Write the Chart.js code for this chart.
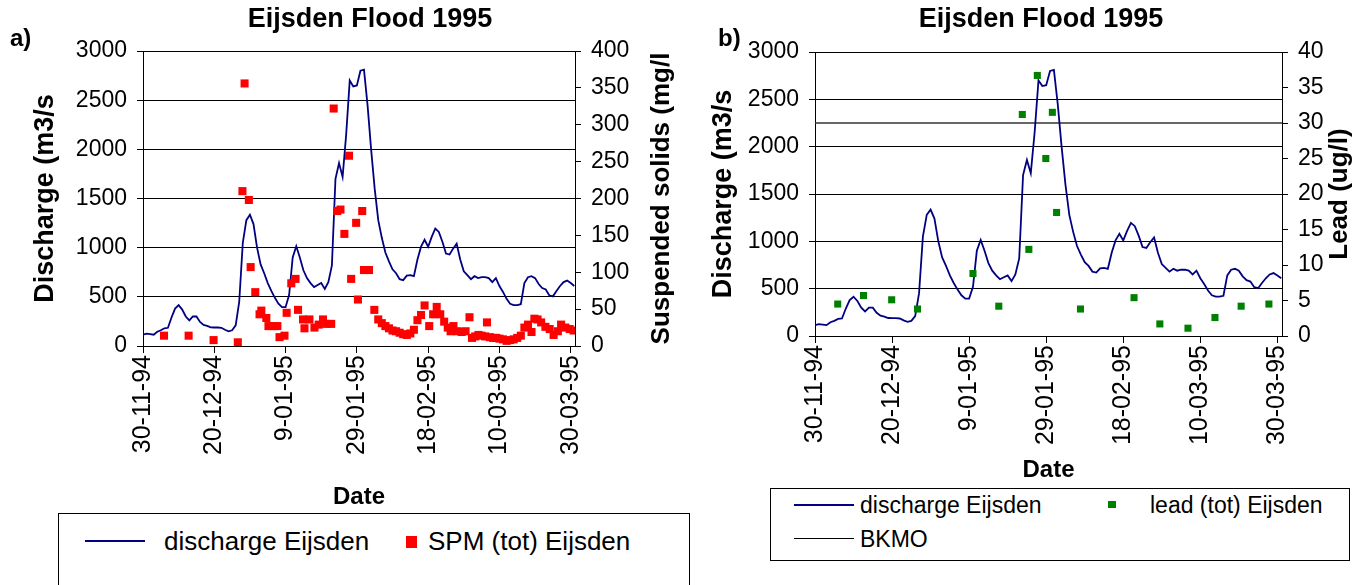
<!DOCTYPE html>
<html>
<head>
<meta charset="utf-8">
<script src="https://cdn.jsdelivr.net/npm/chart.js@4.4.1/dist/chart.umd.min.js"></script>
<style>
  html, body { margin: 0; padding: 0; background: #fff; width: 1366px; height: 585px; overflow: hidden; }
  .wrap { position: absolute; top: 0; }
  #wrapA { left: 0; width: 740px; height: 515px; }
  #wrapB { left: 700px; width: 682px; height: 485px; }
  .legend { position: absolute; box-sizing: border-box; border: 1.5px solid #000; background: #fff;
            font-family: 'Liberation Sans', Arial, sans-serif; color: #000; }
  .legend span { position: absolute; display: block; }
  .legend .txt { white-space: nowrap; line-height: 30px; height: 30px; }
</style>
</head>
<body>
<div class="wrap" id="wrapA"><canvas id="chartA" width="740" height="515"></canvas></div>
<div class="wrap" id="wrapB"><canvas id="chartB" width="682" height="485"></canvas></div>

<div class="legend" style="left:58px; top:513px; width:632px; height:90px; font-size:26px;">
  <span style="left:26px; top:26px; width:60px; height:0; border-top:2px solid #000080;"></span>
  <span class="txt" style="left:105px; top:12px;">discharge Eijsden</span>
  <span style="left:347px; top:22px; width:11px; height:12px; background:#ff0000;"></span>
  <span class="txt" style="left:369px; top:12px;">SPM (tot) Eijsden</span>
</div>

<div class="legend" style="left:770px; top:488px; width:580px; height:73px; font-size:23px;">
  <span style="left:23px; top:15px; width:60px; height:0; border-top:2px solid #000080;"></span>
  <span class="txt" style="left:89px; top:1px;">discharge Eijsden</span>
  <span style="left:337px; top:12px; width:8px; height:7px; background:#008000;"></span>
  <span class="txt" style="left:379px; top:1px;">lead (tot) Eijsden</span>
  <span style="left:23px; top:49px; width:60px; height:0; border-top:1px solid #000;"></span>
  <span class="txt" style="left:89px; top:35px;">BKMO</span>
</div>

<script>
// x axis: days since 30-11-94
const dateLabels = ['30-11-94', '20-12-94', '9-01-95', '29-01-95', '18-02-95', '10-03-95', '30-03-95'];
const dateTickDays = [0, 20, 40, 60, 80, 100, 120];
const lastDay = 121.2;

// daily discharge at Eijsden (m3/s), day 0 .. 121
const discharge = [
  115, 125, 120, 115, 145, 160, 180, 185, 290, 380,
  415, 370, 300, 260, 300, 300, 245, 215, 205, 190,
  188, 188, 185, 165, 150, 160, 210, 450, 1050, 1280,
  1335, 1240, 1000, 830, 740, 640, 560, 490, 430, 395,
  395, 520, 900, 1015, 900, 770, 690, 640, 600, 620,
  640, 580, 650, 820, 1700, 1860, 1720, 2150, 2700, 2640,
  2650, 2800, 2810, 2450, 2000, 1600, 1280, 1100, 950, 860,
  780, 740, 680, 670, 715, 720, 710, 880, 1010, 1080,
  1010, 1110, 1195, 1160, 1060, 940, 930, 990, 1040, 880,
  760, 720, 680, 710, 690, 700, 700, 690, 650, 690,
  610, 550, 480, 430, 415, 415, 425, 640, 700, 710,
  690, 630, 590, 575, 515, 505, 560, 610, 650, 665,
  640, 610
];

// suspended solids samples (mg/l)
const spmDays = [
  5.9, 12.8, 19.8, 26.6, 27.9, 28.5, 29.7, 30.2, 31.5, 32.7,
  33.2, 34.6, 35.2, 36.4, 37.7, 38.3, 39.7, 40.3, 41.6, 42.8,
  43.5, 44.9, 45.3, 46.7, 48.1, 49.3, 50.5, 51.4, 52.8, 53.5,
  54.5, 55.4, 56.5, 57.8, 58.4, 59.8, 60.3, 61.5, 62.0, 63.4,
  64.9, 66, 67, 68, 69, 70, 71, 72, 73, 74,
  75, 76, 77, 78, 79, 80.3, 81.4, 82.4, 83.4, 84.5,
  85.5, 86.3, 87.1, 88.2, 89.4, 90.5, 91.6, 92.3, 93.2, 94.1,
  95, 96, 96.5, 97.3, 98.2, 99.1, 100, 101, 102, 103,
  104, 105, 106, 107, 108, 109, 109.8, 110.7, 111.7, 112.9,
  114.1, 115.2, 116.4, 117.3, 118.5, 119.7, 120.8
];
const spmValues = [
  14, 14, 8, 5, 210, 356, 198, 107, 73, 43,
  48, 38, 27, 27, 27, 12, 14, 45, 85, 91,
  49, 36, 24, 36, 25, 29, 36, 30, 30, 322,
  183, 185, 152, 258, 91, 167, 63, 183, 103, 103,
  49, 36, 31, 27, 24, 21, 20, 18, 16, 15,
  17, 22, 35, 42, 55, 27, 43, 53, 43, 33,
  25, 20, 27, 20, 19, 20, 39, 11, 13, 15,
  14, 13, 32, 12, 11, 11, 10, 9, 7, 8,
  9, 11, 14, 25, 29, 19, 37, 36, 32, 26,
  23, 15, 20, 29, 25, 23, 21
];

// lead samples (ug/l)
const leadDays = [5.9, 12.6, 19.9, 26.6, 41.0, 47.7, 53.8, 55.5, 57.7, 59.9, 61.6, 62.7, 68.9, 82.8, 89.5, 96.8, 103.8, 110.6, 117.8];
const leadValues = [4.5, 5.7, 5.1, 3.8, 8.8, 4.2, 31.2, 12.2, 36.7, 25.0, 31.5, 17.4, 3.8, 5.4, 1.7, 1.1, 2.6, 4.2, 4.5];

// BKMO standard for lead (ug/l)
const bkmoLevel = 30;

const FONT = "'Liberation Sans', Arial, sans-serif";
Chart.defaults.font.family = FONT;
Chart.defaults.color = '#000';

const dischargePoints = discharge.map((v, i) => ({ x: i, y: v }));
const spmPoints = spmDays.map((d, i) => ({ x: d, y: spmValues[i] }));
const leadPoints = leadDays.map((d, i) => ({ x: d, y: leadValues[i] }));
const bkmoPoints = [{ x: 0, y: bkmoLevel }, { x: lastDay, y: bkmoLevel }];

// panel letter and right axis title (reads bottom to top like the left one)
function panelText(letter, letterX, rightTitle, rightX) {
  return {
    id: 'panelText',
    afterDraw(chart) {
      const ctx = chart.ctx;
      const area = chart.chartArea;
      ctx.save();
      ctx.fillStyle = '#000';
      ctx.font = 'bold 24px ' + FONT;
      ctx.textBaseline = 'middle';
      ctx.textAlign = 'left';
      ctx.fillText(letter, letterX, 39);
      ctx.translate(rightX, (area.top + area.bottom) / 2);
      ctx.rotate(-Math.PI / 2);
      ctx.textAlign = 'center';
      ctx.font = 'bold 26px ' + FONT;
      ctx.fillText(rightTitle, 0, 0);
      ctx.restore();
    }
  };
}

const plainNumber = (value) => String(value);

function buildOptions(box, rightMax, rightStep) {
  return {
    responsive: false,
    animation: false,
    events: [],
    layout: { padding: 0 },
    plugins: {
      legend: { display: false },
      tooltip: { enabled: false },
      title: {
        display: true,
        text: 'Eijsden Flood 1995',
        color: '#000',
        font: { size: 27, weight: 'bold' },
        padding: { top: 3, bottom: box.top - 3 - 32.4 }
      }
    },
    scales: {
      x: {
        type: 'linear',
        min: 0,
        max: lastDay,
        afterBuildTicks: (scale) => { scale.ticks = dateTickDays.map(v => ({ value: v })); },
        afterFit: (scale) => { scale.height = box.height - box.bottom; },
        ticks: {
          autoSkip: false,
          maxRotation: 90,
          minRotation: 90,
          padding: 2,
          font: { size: 25 },
          callback: (value, index) => dateLabels[index]
        },
        grid: { drawOnChartArea: false, tickLength: 7, color: '#000' },
        border: { color: '#000', width: 1 },
        title: {
          display: true,
          text: 'Date',
          font: { size: 24, weight: 'bold' },
          padding: { top: 0, bottom: box.dateBottom }
        }
      },
      y: {
        position: 'left',
        min: 0,
        max: 3000,
        afterFit: (scale) => { scale.width = box.left; },
        ticks: { stepSize: 500, padding: 10, font: { size: 23 }, callback: plainNumber },
        grid: { color: '#000', lineWidth: 1, tickLength: 6 },
        border: { color: '#000', width: 1 },
        title: {
          display: true,
          text: 'Discharge (m3/s',
          font: { size: 27, weight: 'bold' },
          padding: { top: box.leftTitle - 16.2, bottom: 0 }
        }
      },
      y2: {
        position: 'right',
        min: 0,
        max: rightMax,
        afterFit: (scale) => { scale.width = box.width - box.right; },
        ticks: { stepSize: rightStep, padding: 10, font: { size: 23 }, callback: plainNumber },
        grid: { drawOnChartArea: false, tickLength: 6, color: '#000' },
        border: { color: '#000', width: 1 }
      }
    }
  };
}

// chart a: discharge and suspended solids
new Chart(document.getElementById('chartA'), {
  type: 'line',
  data: {
    datasets: [
      {
        label: 'SPM (tot) Eijsden',
        data: spmPoints,
        yAxisID: 'y2',
        showLine: false,
        pointStyle: 'rect',
        pointRadius: 5.7,
        pointBackgroundColor: '#ff0000',
        pointBorderWidth: 0,
        order: 0
      },
      {
        label: 'discharge Eijsden',
        data: dischargePoints,
        yAxisID: 'y',
        borderColor: '#000080',
        borderWidth: 1.8,
        pointRadius: 0,
        tension: 0,
        order: 1
      }
    ]
  },
  options: buildOptions({ width: 740, height: 515, left: 143, right: 575, top: 51, bottom: 346, leftTitle: 46, dateBottom: 3.6 }, 400, 50),
  plugins: [panelText('a)', 10, 'Suspended solids (mg/l', 662)]
});

// chart b: discharge and lead (left edge of canvas is x=700 on the page)
new Chart(document.getElementById('chartB'), {
  type: 'line',
  data: {
    datasets: [
      {
        label: 'lead (tot) Eijsden',
        data: leadPoints,
        yAxisID: 'y2',
        showLine: false,
        pointStyle: 'rect',
        pointRadius: 5,
        pointBackgroundColor: '#008000',
        pointBorderWidth: 0,
        order: 0
      },
      {
        label: 'discharge Eijsden',
        data: dischargePoints,
        yAxisID: 'y',
        borderColor: '#000080',
        borderWidth: 1.8,
        pointRadius: 0,
        tension: 0,
        order: 1
      },
      {
        label: 'BKMO',
        data: bkmoPoints,
        yAxisID: 'y2',
        borderColor: '#333333',
        borderWidth: 1.5,
        pointRadius: 0,
        order: 2
      }
    ]
  },
  options: buildOptions({ width: 682, height: 485, left: 115, right: 582, top: 52, bottom: 336, leftTitle: 24, dateBottom: 0.6 }, 40, 5),
  plugins: [panelText('b)', 18, 'Lead (ug/l)', 640)]
});
</script>
</body>
</html>
